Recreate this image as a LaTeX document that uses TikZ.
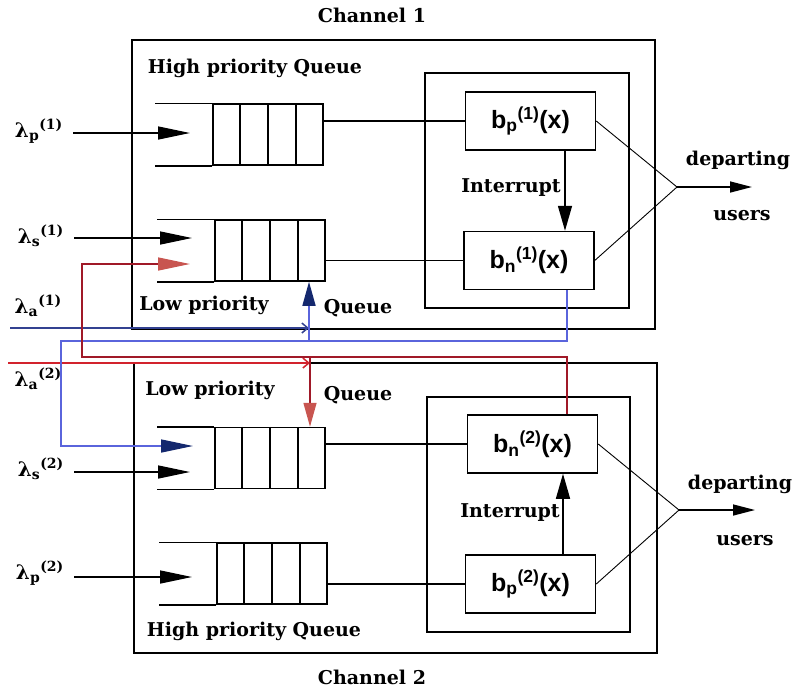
\documentclass[tikz,border=0pt]{standalone}
\usepackage{fontspec}
\setmainfont{DejaVu Serif}
\newfontfamily\boxfont{Liberation Sans}
\usetikzlibrary{arrows.meta,positioning,calc}
\definecolor{lineblue}{RGB}{90,100,220}
\definecolor{darkblue}{RGB}{50,65,145}
\definecolor{headblue}{RGB}{20,40,110}
\definecolor{linered}{RGB}{160,25,40}
\definecolor{brightred}{RGB}{210,35,45}
\definecolor{headred}{RGB}{200,85,80}

\begin{document}
\begin{tikzpicture}[x=1pt, y=-1pt,
    chframe/.style = {draw, line width=1.5pt},
    srvbox/.style = {draw, line width=1.5pt, minimum width=130pt, minimum height=58pt, inner sep=0pt, font=\boxfont\bfseries\fontsize{25}{28}\selectfont},
    qcells/.style = {draw, line width=1.5pt, minimum width=110pt, minimum height=61pt, inner sep=0pt},
    lbl/.style = {font=\bfseries\fontsize{19}{22}\selectfont, inner sep=0pt},
    lam/.style = {font=\bfseries\fontsize{20}{22}\selectfont, inner sep=0pt, anchor=east},
    qlink/.style = {line width=1.5pt},
    feed/.style = {line width=1.5pt, -{Triangle[length=32pt, width=13pt]}},
    intr/.style = {line width=1.5pt, -{Triangle[length=25pt, width=14pt]}},
    depline/.style = {line width=0.9pt},
    depart/.style = {line width=1.5pt, -{Triangle[length=22pt, width=11pt]}},
    barb/.style = {line width=1.5pt, -{Straight Barb[length=6pt, width=10pt]}}
]
\useasboundingbox (0,0) rectangle (792,689);

% channel frames
\draw[chframe] (132,40) rectangle (655,329);
\draw[chframe] (425,73) rectangle (629,308);
\draw[chframe] (134,363) rectangle (657,653);
\draw[chframe] (427,397) rectangle (630,632);

% queues
\node[qcells] (q1) at (268,134.5) {};
\node[qcells] (q2) at (270,250.5) {};
\node[qcells] (q3) at (270,458) {};
\node[qcells] (q4) at (272,573.5) {};
\foreach \q in {q1,q2,q3,q4} {
    \draw[qlink] (\q.north west) -- ++(-57,0) (\q.south west) -- ++(-57,0);
    \foreach \k in {1,2,3}
        \draw[qlink] ($(\q.north west)!\k/4!(\q.north east)$) -- ($(\q.south west)!\k/4!(\q.south east)$);
}

% servers
\node[srvbox] (bp1) at (530.5,121) {b\textsubscript{p}\textsuperscript{(1)}(x)};
\node[srvbox] (bn1) at (529,260.5) {b\textsubscript{n}\textsuperscript{(1)}(x)};
\node[srvbox] (bn2) at (532.5,444) {b\textsubscript{n}\textsuperscript{(2)}(x)};
\node[srvbox] (bp2) at (530.5,584) {b\textsubscript{p}\textsuperscript{(2)}(x)};

\draw[qlink] (q1.east |- bp1.west) -- (bp1.west);
\draw[qlink] (q2.east |- bn1.west) -- (bn1.west);
\draw[qlink] (q3.east |- bn2.west) -- (bn2.west);
\draw[qlink] (q4.east |- bp2.west) -- (bp2.west);

% interrupts
\coordinate (i1) at ([xshift=34.5pt]bp1.south);
\coordinate (i2) at ([xshift=32.5pt]bp2.north);
\draw[intr] (i1) -- (i1 |- bn1.north);
\draw[intr] (i2) -- (i2 |- bn2.south);
\node[lbl] (int1) at (511,188) {Interrupt};
\node[lbl] (int2) at (510,513) {Interrupt};

% departures
\coordinate (d1) at (677,187);
\coordinate (o1) at (752,187);
\coordinate (d2) at (679,510);
\coordinate (o2) at (755,510);
\draw[depline] (bp1.east) -- (d1) -- (bn1.east);
\draw[depline] (bn2.east) -- (d2) -- (bp2.east);
\draw[depart] (d1) -- (o1);
\draw[depart] (d2) -- (o2);
\node[lbl] (dp1) at (738,160) {departing};
\node[lbl] (us1) at (742,216) {users};
\node[lbl] (dp2) at (740,484) {departing};
\node[lbl] (us2) at (745,541) {users};

% arrivals
\node[lam] (lp1) at (63,131) {λ\textsubscript{p}\textsuperscript{(1)}};
\node[lam] (lc1) at (64,236) {λ\textsubscript{s}\textsuperscript{(1)}};
\node[lam] (la1) at (62,306) {λ\textsubscript{a}\textsuperscript{(1)}};
\node[lam] (la2) at (62,379) {λ\textsubscript{a}\textsuperscript{(2)}};
\node[lam] (lc2) at (64,469) {λ\textsubscript{s}\textsuperscript{(2)}};
\node[lam] (lp2) at (64,573) {λ\textsubscript{p}\textsuperscript{(2)}};
\coordinate (tp1) at (190,133);
\coordinate (tc1) at (192,238);
\coordinate (tc2) at (190,472);
\coordinate (tp2) at (192,577);
\draw[feed, shorten <=10pt] (lp1.east |- tp1) -- (tp1);
\draw[feed, shorten <=10pt] (lc1.east |- tc1) -- (tc1);
\draw[feed, shorten <=10pt] (lc2.east |- tc2) -- (tc2);
\draw[feed, shorten <=10pt] (lp2.east |- tp2) -- (tp2);

% switching users
\coordinate (jb) at (309,341);
\coordinate (jr) at (310,357);
\coordinate (sa1) at (10,328);
\coordinate (sa2) at (8,363);
\draw[barb, darkblue] (sa1) -- (jb |- sa1);
\draw[barb, brightred] (sa2) -- (jr |- sa2);

\coordinate (b0) at ([xshift=38pt]bn1.south);
\coordinate (b1) at (61,341);
\coordinate (tb) at (193,446);
\draw[lineblue, line width=1.5pt, -{Triangle[length=32pt, width=13pt, color=headblue]}] (b0) |- (b1) |- (tb);
\coordinate (r0) at ([xshift=34.5pt]bn2.north);
\coordinate (r1) at (82,357);
\coordinate (tr) at (190,264);
\draw[linered, line width=1.5pt, -{Triangle[length=32pt, width=13pt, color=headred]}] (r0) |- (r1) |- (tr);
\draw[lineblue, line width=1.5pt, -{Triangle[length=24pt, width=13pt, color=headblue]}] (jb) -- (jb |- q2.south);
\draw[linered, line width=1.5pt, -{Triangle[length=24pt, width=13pt, color=headred]}] (jr) -- (jr |- q3.north);

% labels
\node[lbl] (t1) at (372,15) {Channel 1};
\node[lbl] (t2) at (372,677) {Channel 2};
\node[lbl] (h1) at (255,68) {High priority Queue};
\node[lbl] (h2) at (254,631) {High priority Queue};
\node[lbl] (lo1) at (204,305) {Low priority};
\node[lbl] (qu1) at (358,308) {Queue};
\node[lbl] (lo2) at (210,390) {Low priority};
\node[lbl] (qu2) at (358,395) {Queue};
\end{tikzpicture}
\end{document}
